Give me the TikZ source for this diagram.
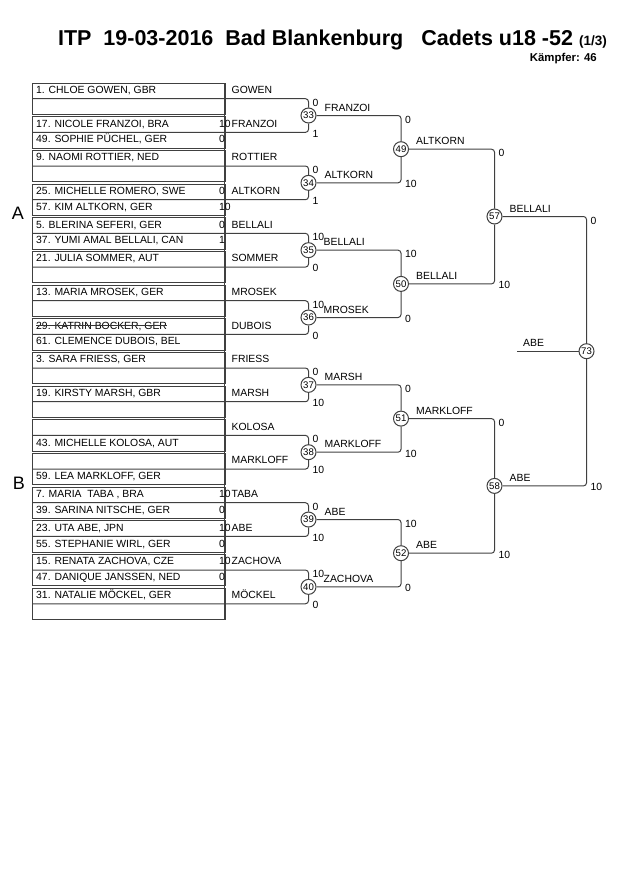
\documentclass[tikz,border=0pt]{standalone}
\usepackage{fontspec}
\setmainfont{Liberation Sans}
\usetikzlibrary{calc}
\newcommand\mkunit[1]{%
  \pgfmathsetmacro\uT{83+(#1-1)*33.67}%
  \pgfmathsetmacro\uS{\uT+15.7}%
  \pgfmathsetmacro\uB{\uT+31.4}%
  \draw[ln] (32,\uT) rectangle (225,\uB);
  \coordinate (s#1) at (32,\uS);
  \coordinate (a#1) at (36,\uT+10.6);
  \coordinate (b#1) at (36,\uS+10.6);
  \coordinate (ka#1) at (219,\uT+10.6);
  \coordinate (kb#1) at (219,\uS+10.6);
  \coordinate (w#1) at (231.5,\uT+10.6);
}
\newcommand\bsc[5]{%
  \node[nm] (q#1a) at ($(c#1|-#2)+(4,7.5)$) {#4};
  \node[nm] (q#1b) at ($(c#1|-#3)+(4,4.8)$) {#5};
}
\begin{document}
\begin{tikzpicture}[x=1pt,y=-1pt,
  ln/.style={draw=black!75, line width=1pt},
  br/.style={draw=black!75, line width=1pt, rounded corners=3pt},
  nm/.style={font=\fontsize{10.4}{12}\selectfont, inner sep=0pt, anchor=base west},
  fc/.style={circle, draw=black!75, line width=1pt, fill=white, minimum size=15pt, inner sep=0pt, font=\fontsize{9.6}{10}\selectfont},
]
\useasboundingbox (0,0) rectangle (630,891);

% title
\node[inner sep=0pt, anchor=base east] (title) at (607,46) {\bfseries\fontsize{21.5}{24}\selectfont ITP\ \ 19-03-2016\ \ Bad Blankenburg\ \ \ Cadets u18 -52 {\fontsize{13.5}{14}\selectfont(1/3)}};
\node[inner sep=0pt, anchor=base east] (count) at (597,62) {\bfseries\fontsize{11.4}{12}\selectfont Kämpfer: 46};
\node[inner sep=0pt, font=\fontsize{18}{20}\selectfont] (lA) at (18,213) {A};
\node[inner sep=0pt, font=\fontsize{18}{20}\selectfont] (lB) at (19,483) {B};

% unit boxes
\foreach \i in {1,...,16}{\mkunit{\i}}
\draw[ln] (224,83) -- (224,619.45);

% circles
\foreach \k in {1,...,8}{
  \pgfmathsetmacro\cy{115.5+(\k-1)*67.34}
  \pgfmathtruncatemacro\cn{32+\k}
  \coordinate (c\cn) at (308.5,\cy);
}
\coordinate (c49) at (401,149.2);
\coordinate (c50) at (401,283.9);
\coordinate (c51) at (401,418.6);
\coordinate (c52) at (401,553.2);
\coordinate (c57) at (494.5,216.5);
\coordinate (c58) at (494.5,485.9);
\coordinate (c73) at (586.5,351.2);
\foreach \n in {33,...,40,49,50,51,52,57,58,73}{\node[fc] (c\n) at (c\n) {\n};}

% round 2 brackets
\foreach \k in {1,...,8}{
  \pgfmathtruncatemacro\cn{32+\k}
  \pgfmathtruncatemacro\ua{2*\k-1}
  \pgfmathtruncatemacro\ub{2*\k}
  \draw[br] (s\ua) -| (c\cn);
  \draw[br] (s\ub) -| (c\cn);
}
% round 3
\draw[br] (c33) -| (c49); \draw[br] (c34) -| (c49);
\draw[br] (c35) -| (c50); \draw[br] (c36) -| (c50);
\draw[br] (c37) -| (c51); \draw[br] (c38) -| (c51);
\draw[br] (c39) -| (c52); \draw[br] (c40) -| (c52);
% round 4
\draw[br] (c49) -| (c57); \draw[br] (c50) -| (c57);
\draw[br] (c51) -| (c58); \draw[br] (c52) -| (c58);
% final
\draw[br] (c57) -| (c73); \draw[br] (c58) -| (c73);
\coordinate (fin) at (517,351.2);
\draw[ln] (fin) -- (c73);

% names
\node[nm] (t1a) at (a1) {1. CHLOE GOWEN, GBR};
\node[nm] (n1) at (w1) {GOWEN};
\node[nm] (t2a) at (a2) {17. NICOLE FRANZOI, BRA};
\node[nm] (t2b) at (b2) {49. SOPHIE PÜCHEL, GER};
\node[nm] (k2a) at (ka2) {10};
\node[nm] (k2b) at (kb2) {0};
\node[nm] (n2) at (w2) {FRANZOI};
\node[nm] (t3a) at (a3) {9. NAOMI ROTTIER, NED};
\node[nm] (n3) at (w3) {ROTTIER};
\node[nm] (t4a) at (a4) {25. MICHELLE ROMERO, SWE};
\node[nm] (t4b) at (b4) {57. KIM ALTKORN, GER};
\node[nm] (k4a) at (ka4) {0};
\node[nm] (k4b) at (kb4) {10};
\node[nm] (n4) at (w4) {ALTKORN};
\node[nm] (t5a) at (a5) {5. BLERINA SEFERI, GER};
\node[nm] (t5b) at (b5) {37. YUMI AMAL BELLALI, CAN};
\node[nm] (k5a) at (ka5) {0};
\node[nm] (k5b) at (kb5) {1};
\node[nm] (n5) at (w5) {BELLALI};
\node[nm] (t6a) at (a6) {21. JULIA SOMMER, AUT};
\node[nm] (n6) at (w6) {SOMMER};
\node[nm] (t7a) at (a7) {13. MARIA MROSEK, GER};
\node[nm] (n7) at (w7) {MROSEK};
\node[nm] (t8a) at (a8) {29. KATRIN BOCKER, GER};
\draw[black!80, line width=0.7pt] ([yshift=3.7pt]t8a.base west) -- ([yshift=3.7pt]t8a.base east);
\node[nm] (t8b) at (b8) {61. CLEMENCE DUBOIS, BEL};
\node[nm] (n8) at (w8) {DUBOIS};
\node[nm] (t9a) at (a9) {3. SARA FRIESS, GER};
\node[nm] (n9) at (w9) {FRIESS};
\node[nm] (t10a) at (a10) {19. KIRSTY MARSH, GBR};
\node[nm] (n10) at (w10) {MARSH};
\node[nm] (t11b) at (b11) {43. MICHELLE KOLOSA, AUT};
\node[nm] (n11) at (w11) {KOLOSA};
\node[nm] (t12b) at (b12) {59. LEA MARKLOFF, GER};
\node[nm] (n12) at (w12) {MARKLOFF};
\node[nm] (t13a) at (a13) {7. MARIA\ \ TABA , BRA};
\node[nm] (t13b) at (b13) {39. SARINA NITSCHE, GER};
\node[nm] (k13a) at (ka13) {10};
\node[nm] (k13b) at (kb13) {0};
\node[nm] (n13) at (w13) {TABA};
\node[nm] (t14a) at (a14) {23. UTA ABE, JPN};
\node[nm] (t14b) at (b14) {55. STEPHANIE WIRL, GER};
\node[nm] (k14a) at (ka14) {10};
\node[nm] (k14b) at (kb14) {0};
\node[nm] (n14) at (w14) {ABE};
\node[nm] (t15a) at (a15) {15. RENATA ZACHOVA, CZE};
\node[nm] (t15b) at (b15) {47. DANIQUE JANSSEN, NED};
\node[nm] (k15a) at (ka15) {10};
\node[nm] (k15b) at (kb15) {0};
\node[nm] (n15) at (w15) {ZACHOVA};
\node[nm] (t16a) at (a16) {31. NATALIE MÖCKEL, GER};
\node[nm] (n16) at (w16) {MÖCKEL};

% round 2 scores and winners
\bsc{33}{s1}{s2}{0}{1}
\bsc{34}{s3}{s4}{0}{1}
\bsc{35}{s5}{s6}{10}{0}
\bsc{36}{s7}{s8}{10}{0}
\bsc{37}{s9}{s10}{0}{10}
\bsc{38}{s11}{s12}{0}{10}
\bsc{39}{s13}{s14}{0}{10}
\bsc{40}{s15}{s16}{10}{0}
\node[nm] (l33) at ($(c33)+(16,-4.5)$) {FRANZOI};
\node[nm] (l34) at ($(c34)+(16,-4.5)$) {ALTKORN};
\node[nm] (l35) at ($(c35)+(15,-4.5)$) {BELLALI};
\node[nm] (l36) at ($(c36)+(15,-4.5)$) {MROSEK};
\node[nm] (l37) at ($(c37)+(16,-4.5)$) {MARSH};
\node[nm] (l38) at ($(c38)+(16,-4.5)$) {MARKLOFF};
\node[nm] (l39) at ($(c39)+(16,-4.5)$) {ABE};
\node[nm] (l40) at ($(c40)+(15,-4.5)$) {ZACHOVA};
% round 3
\bsc{49}{c33}{c34}{0}{10}
\bsc{50}{c35}{c36}{10}{0}
\bsc{51}{c37}{c38}{0}{10}
\bsc{52}{c39}{c40}{10}{0}
\node[nm] (l49) at ($(c49)+(15,-4.5)$) {ALTKORN};
\node[nm] (l50) at ($(c50)+(15,-4.5)$) {BELLALI};
\node[nm] (l51) at ($(c51)+(15,-4.5)$) {MARKLOFF};
\node[nm] (l52) at ($(c52)+(15,-4.5)$) {ABE};
% round 4
\bsc{57}{c49}{c50}{0}{10}
\bsc{58}{c51}{c52}{0}{10}
\node[nm] (l57) at ($(c57)+(15,-4.5)$) {BELLALI};
\node[nm] (l58) at ($(c58)+(15,-4.5)$) {ABE};
% final
\bsc{73}{c57}{c58}{0}{10}
\node[nm] (l73) at ($(fin)+(6,-4.5)$) {ABE};
\end{tikzpicture}
\end{document}
